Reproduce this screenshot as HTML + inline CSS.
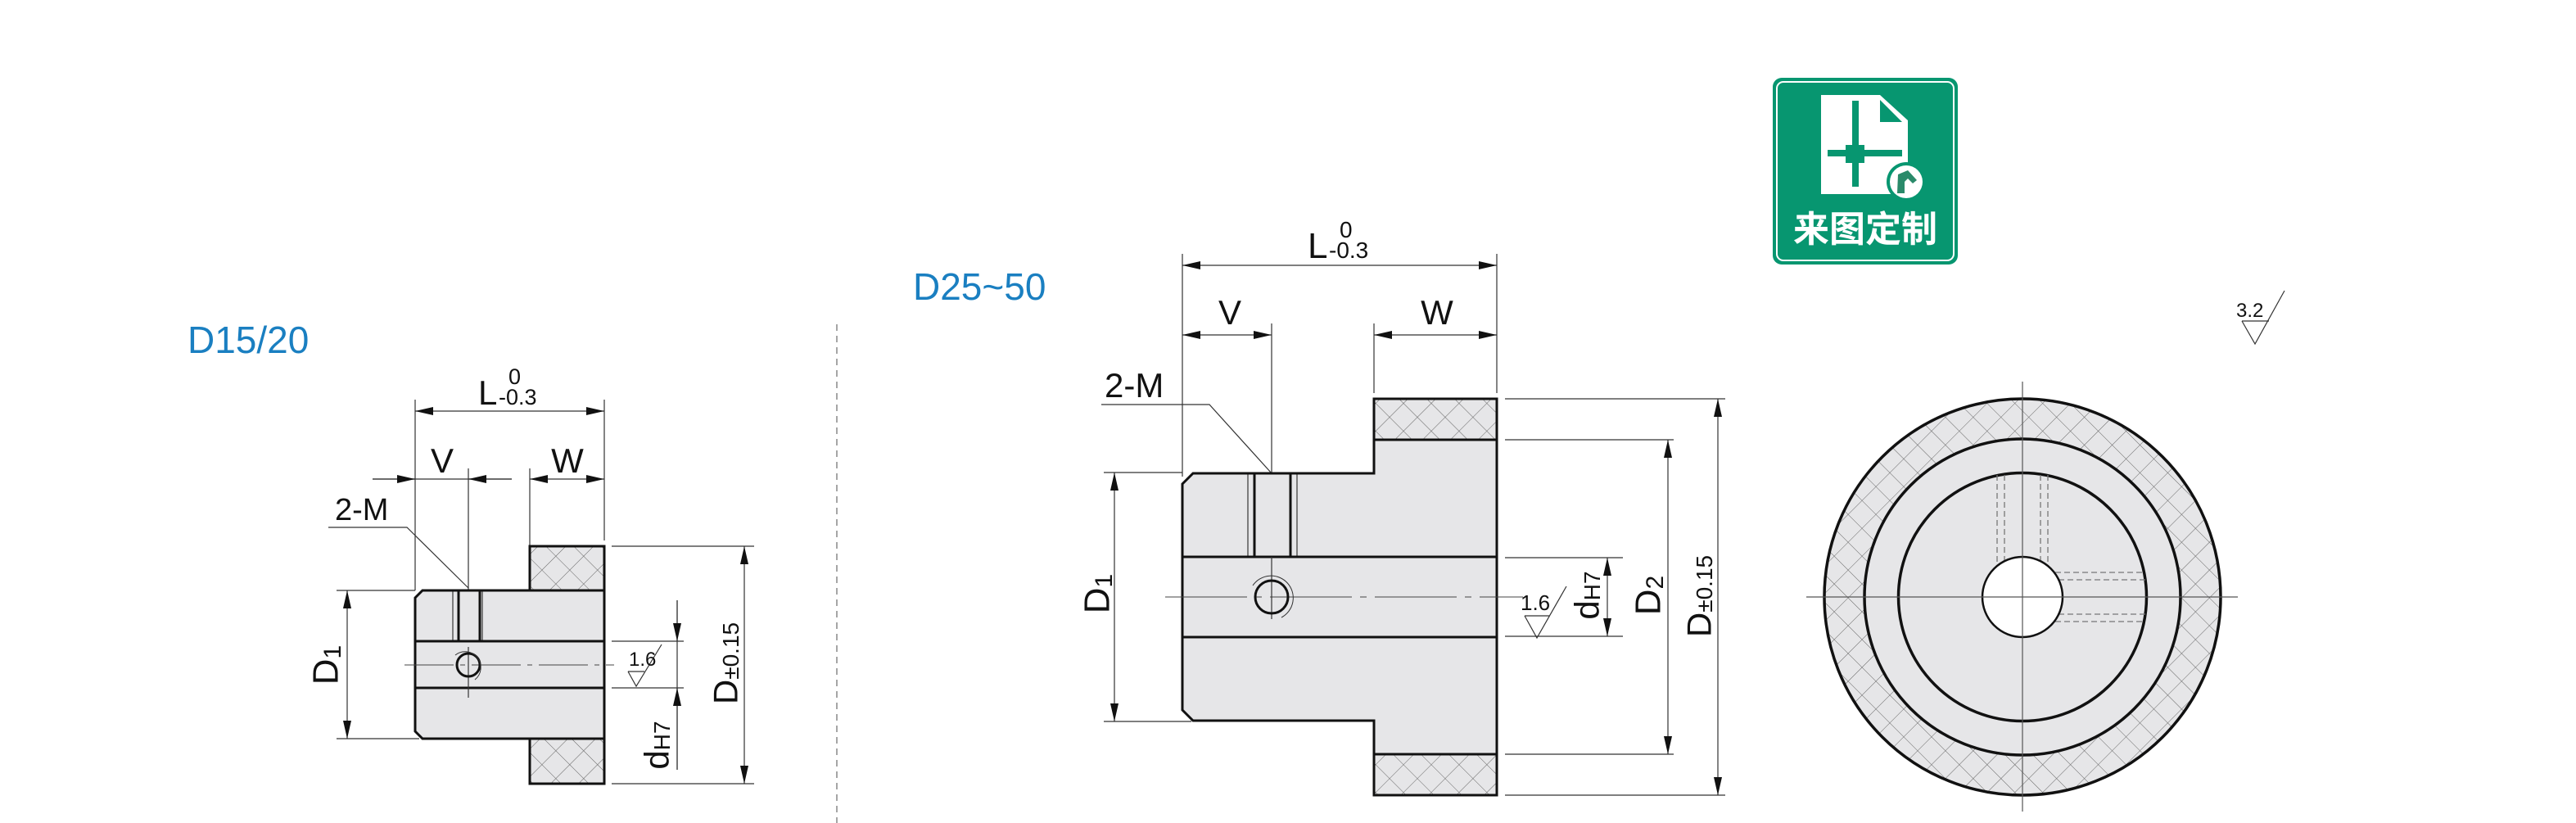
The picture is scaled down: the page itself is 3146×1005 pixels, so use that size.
<!DOCTYPE html>
<html><head><meta charset="utf-8"><style>
html,body{margin:0;padding:0;background:#fff;}
svg{display:block;font-family:"Liberation Sans","Noto Sans CJK SC",sans-serif;}
</style></head><body>
<svg width="3146" height="1005" viewBox="0 0 3146 1005" xmlns="http://www.w3.org/2000/svg">
<defs>
<pattern id="h" width="24" height="24" patternUnits="userSpaceOnUse" patternTransform="rotate(45)">
<rect width="24" height="24" fill="#e6e6e8"/>
<line x1="0" y1="0" x2="24" y2="0" stroke="#666" stroke-width="1"/>
<line x1="0" y1="0" x2="0" y2="24" stroke="#666" stroke-width="1"/>
</pattern>
<marker id="a" viewBox="0 0 22 10" refX="22" refY="5" markerWidth="22" markerHeight="10" markerUnits="userSpaceOnUse" orient="auto-start-reverse"><path d="M0,0 L22,5 L0,10 z" fill="#111"/></marker>
</defs>

<!-- titles -->
<text x="229" y="431" font-size="46" fill="#1a7fc1">D15/20</text>
<text x="1115" y="366" font-size="46" fill="#1a7fc1">D25~50</text>
<line x1="1022" y1="396" x2="1022" y2="1005" stroke="#888" stroke-width="1.5" stroke-dasharray="8,6"/>

<!-- ===== SMALL VIEW ===== -->
<g stroke="#333" stroke-width="1.2" fill="none">
<line x1="507" y1="488" x2="507" y2="721"/>
<line x1="738" y1="488" x2="738" y2="660"/>
<line x1="507" y1="502" x2="738" y2="502" marker-start="url(#a)" marker-end="url(#a)"/>
<line x1="455" y1="585" x2="625" y2="585"/>
<line x1="455" y1="585" x2="507" y2="585" marker-end="url(#a)"/>
<line x1="625" y1="585" x2="572" y2="585" marker-end="url(#a)"/>
<line x1="647" y1="585" x2="738" y2="585" marker-start="url(#a)" marker-end="url(#a)"/>
<line x1="572" y1="572" x2="572" y2="852"/>
<line x1="647" y1="572" x2="647" y2="666"/>
<line x1="411" y1="721" x2="507" y2="721"/>
<line x1="411" y1="902" x2="512" y2="902"/>
<line x1="424" y1="721" x2="424" y2="902" marker-start="url(#a)" marker-end="url(#a)"/>
<polyline points="401,644 497,644 572,718"/>
<line x1="747" y1="667" x2="921" y2="667"/>
<line x1="747" y1="957" x2="921" y2="957"/>
<line x1="909" y1="667" x2="909" y2="957" marker-start="url(#a)" marker-end="url(#a)"/>
<line x1="747" y1="783" x2="835" y2="783"/>
<line x1="747" y1="840" x2="835" y2="840"/>
<line x1="827" y1="733" x2="827" y2="940"/>
<line x1="827" y1="733" x2="827" y2="783" marker-end="url(#a)"/>
<line x1="827" y1="940" x2="827" y2="840" marker-end="url(#a)"/>
<polyline points="767,820 777,838 808,787"/>
<line x1="767" y1="820" x2="787" y2="820"/>
</g>
<path d="M516,721 L738,721 L738,902 L516,902 L507,893 L507,730 Z" fill="#e6e6e8" stroke="#111" stroke-width="3"/>
<rect x="647" y="667" width="91" height="54" fill="url(#h)" stroke="#111" stroke-width="3"/>
<rect x="647" y="902" width="91" height="55" fill="url(#h)" stroke="#111" stroke-width="3"/>
<line x1="507" y1="783" x2="738" y2="783" stroke="#111" stroke-width="3"/>
<line x1="507" y1="840" x2="738" y2="840" stroke="#111" stroke-width="3"/>
<g stroke="#111"><line x1="553" y1="721" x2="553" y2="783" stroke-width="1"/><line x1="560" y1="721" x2="560" y2="783" stroke-width="3"/><line x1="586" y1="721" x2="586" y2="783" stroke-width="3"/><line x1="589" y1="721" x2="589" y2="783" stroke-width="1"/></g>
<line x1="494" y1="812" x2="750" y2="812" stroke="#444" stroke-width="1" stroke-dasharray="60,8,6,8"/>
<line x1="572" y1="790" x2="572" y2="852" stroke="#333" stroke-width="1.2"/>
<circle cx="572" cy="812" r="14" fill="none" stroke="#111" stroke-width="3"/>
<path d="M556,800 A19,19 0 1,1 580,830" fill="none" stroke="#333" stroke-width="1"/>
<g fill="#111">
<text x="584" y="494" font-size="42">L</text>
<text x="621" y="469" font-size="27">0</text>
<text x="609" y="494" font-size="27">-0.3</text>
<text x="540" y="577" font-size="42" text-anchor="middle">V</text>
<text x="693" y="577" font-size="42" text-anchor="middle">W</text>
<text x="409" y="635" font-size="38">2-M</text>
<text x="768" y="813" font-size="24">1.6</text>
<text transform="translate(398,812) rotate(-90)" text-anchor="middle" dominant-baseline="central" font-size="44">D<tspan font-size="30" dy="8">1</tspan></text>
<text transform="translate(802,910) rotate(-90)" text-anchor="middle" dominant-baseline="central" font-size="42">d<tspan font-size="28" dy="6">H7</tspan></text>
<text transform="translate(886,810) rotate(-90)" text-anchor="middle" dominant-baseline="central" font-size="42">D<tspan font-size="28" dy="6">±0.15</tspan></text>
</g>

<!-- ===== LARGE VIEW ===== -->
<g stroke="#333" stroke-width="1.2" fill="none">
<line x1="1444" y1="310" x2="1444" y2="582"/>
<line x1="1828" y1="310" x2="1828" y2="480"/>
<line x1="1444" y1="324" x2="1828" y2="324" marker-start="url(#a)" marker-end="url(#a)"/>
<line x1="1444" y1="409" x2="1553" y2="409" marker-start="url(#a)" marker-end="url(#a)"/>
<line x1="1678" y1="409" x2="1828" y2="409" marker-start="url(#a)" marker-end="url(#a)"/>
<line x1="1553" y1="395" x2="1553" y2="756"/>
<line x1="1678" y1="395" x2="1678" y2="480"/>
<polyline points="1345,494 1477,494 1553,578"/>
<line x1="1348" y1="577" x2="1444" y2="577"/>
<line x1="1348" y1="881" x2="1455" y2="881"/>
<line x1="1361" y1="577" x2="1361" y2="881" marker-start="url(#a)" marker-end="url(#a)"/>
<line x1="1838" y1="487" x2="2107" y2="487"/>
<line x1="1838" y1="971" x2="2107" y2="971"/>
<line x1="2098" y1="487" x2="2098" y2="971" marker-start="url(#a)" marker-end="url(#a)"/>
<line x1="1838" y1="537" x2="2044" y2="537"/>
<line x1="1838" y1="921" x2="2044" y2="921"/>
<line x1="2037" y1="537" x2="2037" y2="921" marker-start="url(#a)" marker-end="url(#a)"/>
<line x1="1838" y1="681" x2="1982" y2="681"/>
<line x1="1838" y1="777" x2="1982" y2="777"/>
<line x1="1963" y1="681" x2="1963" y2="777" marker-start="url(#a)" marker-end="url(#a)"/>
<polyline points="1862,752 1877,779 1913,716"/>
<line x1="1862" y1="752" x2="1892" y2="752"/>
</g>
<path d="M1457,578 L1678,578 L1678,537 L1828,537 L1828,921 L1678,921 L1678,880 L1457,880 L1444,867 L1444,591 Z" fill="#e6e6e8" stroke="#111" stroke-width="3"/>
<rect x="1678" y="487" width="150" height="50" fill="url(#h)" stroke="#111" stroke-width="3"/>
<rect x="1678" y="921" width="150" height="50" fill="url(#h)" stroke="#111" stroke-width="3"/>
<line x1="1444" y1="680" x2="1828" y2="680" stroke="#111" stroke-width="3"/>
<line x1="1444" y1="778" x2="1828" y2="778" stroke="#111" stroke-width="3"/>
<g stroke="#111"><line x1="1524" y1="578" x2="1524" y2="680" stroke-width="1"/><line x1="1532" y1="578" x2="1532" y2="680" stroke-width="3"/><line x1="1576" y1="578" x2="1576" y2="680" stroke-width="3"/><line x1="1584" y1="578" x2="1584" y2="680" stroke-width="1"/></g>
<line x1="1423" y1="729" x2="1860" y2="729" stroke="#444" stroke-width="1" stroke-dasharray="100,10,8,10"/>
<line x1="1553" y1="680" x2="1553" y2="756" stroke="#333" stroke-width="1.2"/>
<circle cx="1553" cy="729" r="20" fill="none" stroke="#111" stroke-width="3"/>
<path d="M1530,715 A27,27 0 1,1 1565,754" fill="none" stroke="#333" stroke-width="1"/>
<g fill="#111">
<text x="1597" y="315" font-size="44">L</text>
<text x="1636" y="290" font-size="28">0</text>
<text x="1623" y="315" font-size="28">-0.3</text>
<text x="1502" y="396" font-size="42" text-anchor="middle">V</text>
<text x="1755" y="396" font-size="42" text-anchor="middle">W</text>
<text x="1349" y="485" font-size="42">2-M</text>
<text x="1857" y="745" font-size="26">1.6</text>
<text transform="translate(1340,725) rotate(-90)" text-anchor="middle" dominant-baseline="central" font-size="44">D<tspan font-size="30" dy="8">1</tspan></text>
<text transform="translate(1938,727) rotate(-90)" text-anchor="middle" dominant-baseline="central" font-size="42">d<tspan font-size="28" dy="6">H7</tspan></text>
<text transform="translate(2013,727) rotate(-90)" text-anchor="middle" dominant-baseline="central" font-size="44">D<tspan font-size="30" dy="8">2</tspan></text>
<text transform="translate(2075,728) rotate(-90)" text-anchor="middle" dominant-baseline="central" font-size="42">D<tspan font-size="28" dy="6">±0.15</tspan></text>
</g>

<!-- ===== ICON ===== -->
<rect x="2165" y="95" width="226" height="228" rx="11" fill="#079670"/>
<rect x="2170" y="100" width="216" height="218" rx="8" fill="none" stroke="#fff" stroke-width="2"/>
<path d="M2224,116 L2296,116 L2330,147 L2330,237 L2224,237 Z" fill="#fff"/>
<path d="M2296,122 L2296,149 L2323,149 Z" fill="#079670"/>
<rect x="2262" y="123" width="8" height="105" fill="#079670"/>
<rect x="2232" y="183" width="91" height="8" fill="#079670"/>
<rect x="2254" y="177" width="23" height="22" fill="#079670"/>
<circle cx="2328" cy="222" r="24" fill="#079670"/>
<circle cx="2328" cy="222" r="20" fill="#fff"/>
<path d="M2318,213 L2330,208 L2341,220 L2336,224 L2330,218 L2326,222 L2326,236 L2317,236 Z" fill="#2a8a6a"/>
<text x="2278" y="295" font-size="44" font-weight="bold" fill="#fff" text-anchor="middle" font-family="'Noto Sans CJK SC',sans-serif">来图定制</text>

<!-- surface symbol 3.2 -->
<text x="2731" y="387" font-size="24" fill="#111">3.2</text>
<g stroke="#333" stroke-width="1.2" fill="none">
<polyline points="2738,392 2754,420 2790,355"/>
<line x1="2738" y1="392" x2="2771" y2="392"/>
</g>

<!-- ===== CIRCLE VIEW ===== -->
<circle cx="2470" cy="729" r="242" fill="url(#h)" stroke="#111" stroke-width="3.5"/>
<circle cx="2470" cy="729" r="193" fill="#e6e6e8" stroke="#111" stroke-width="3.5"/>
<circle cx="2470" cy="729" r="151.5" fill="none" stroke="#111" stroke-width="3.5"/>
<g stroke="#777" stroke-width="1.3" stroke-dasharray="7,4">
<line x1="2439" y1="580" x2="2439" y2="690"/>
<line x1="2448" y1="580" x2="2448" y2="684"/>
<line x1="2492" y1="580" x2="2492" y2="684"/>
<line x1="2501" y1="580" x2="2501" y2="690"/>
<line x1="2510" y1="699" x2="2620" y2="699"/>
<line x1="2514" y1="708" x2="2620" y2="708"/>
<line x1="2514" y1="750" x2="2620" y2="750"/>
<line x1="2510" y1="759" x2="2620" y2="759"/>
</g>
<circle cx="2470" cy="729" r="49" fill="#fff" stroke="#111" stroke-width="2.5"/>
<line x1="2206" y1="729" x2="2733" y2="729" stroke="#555" stroke-width="1.2"/>
<line x1="2470" y1="466" x2="2470" y2="991" stroke="#555" stroke-width="1.2"/>
</svg>
</body></html>
